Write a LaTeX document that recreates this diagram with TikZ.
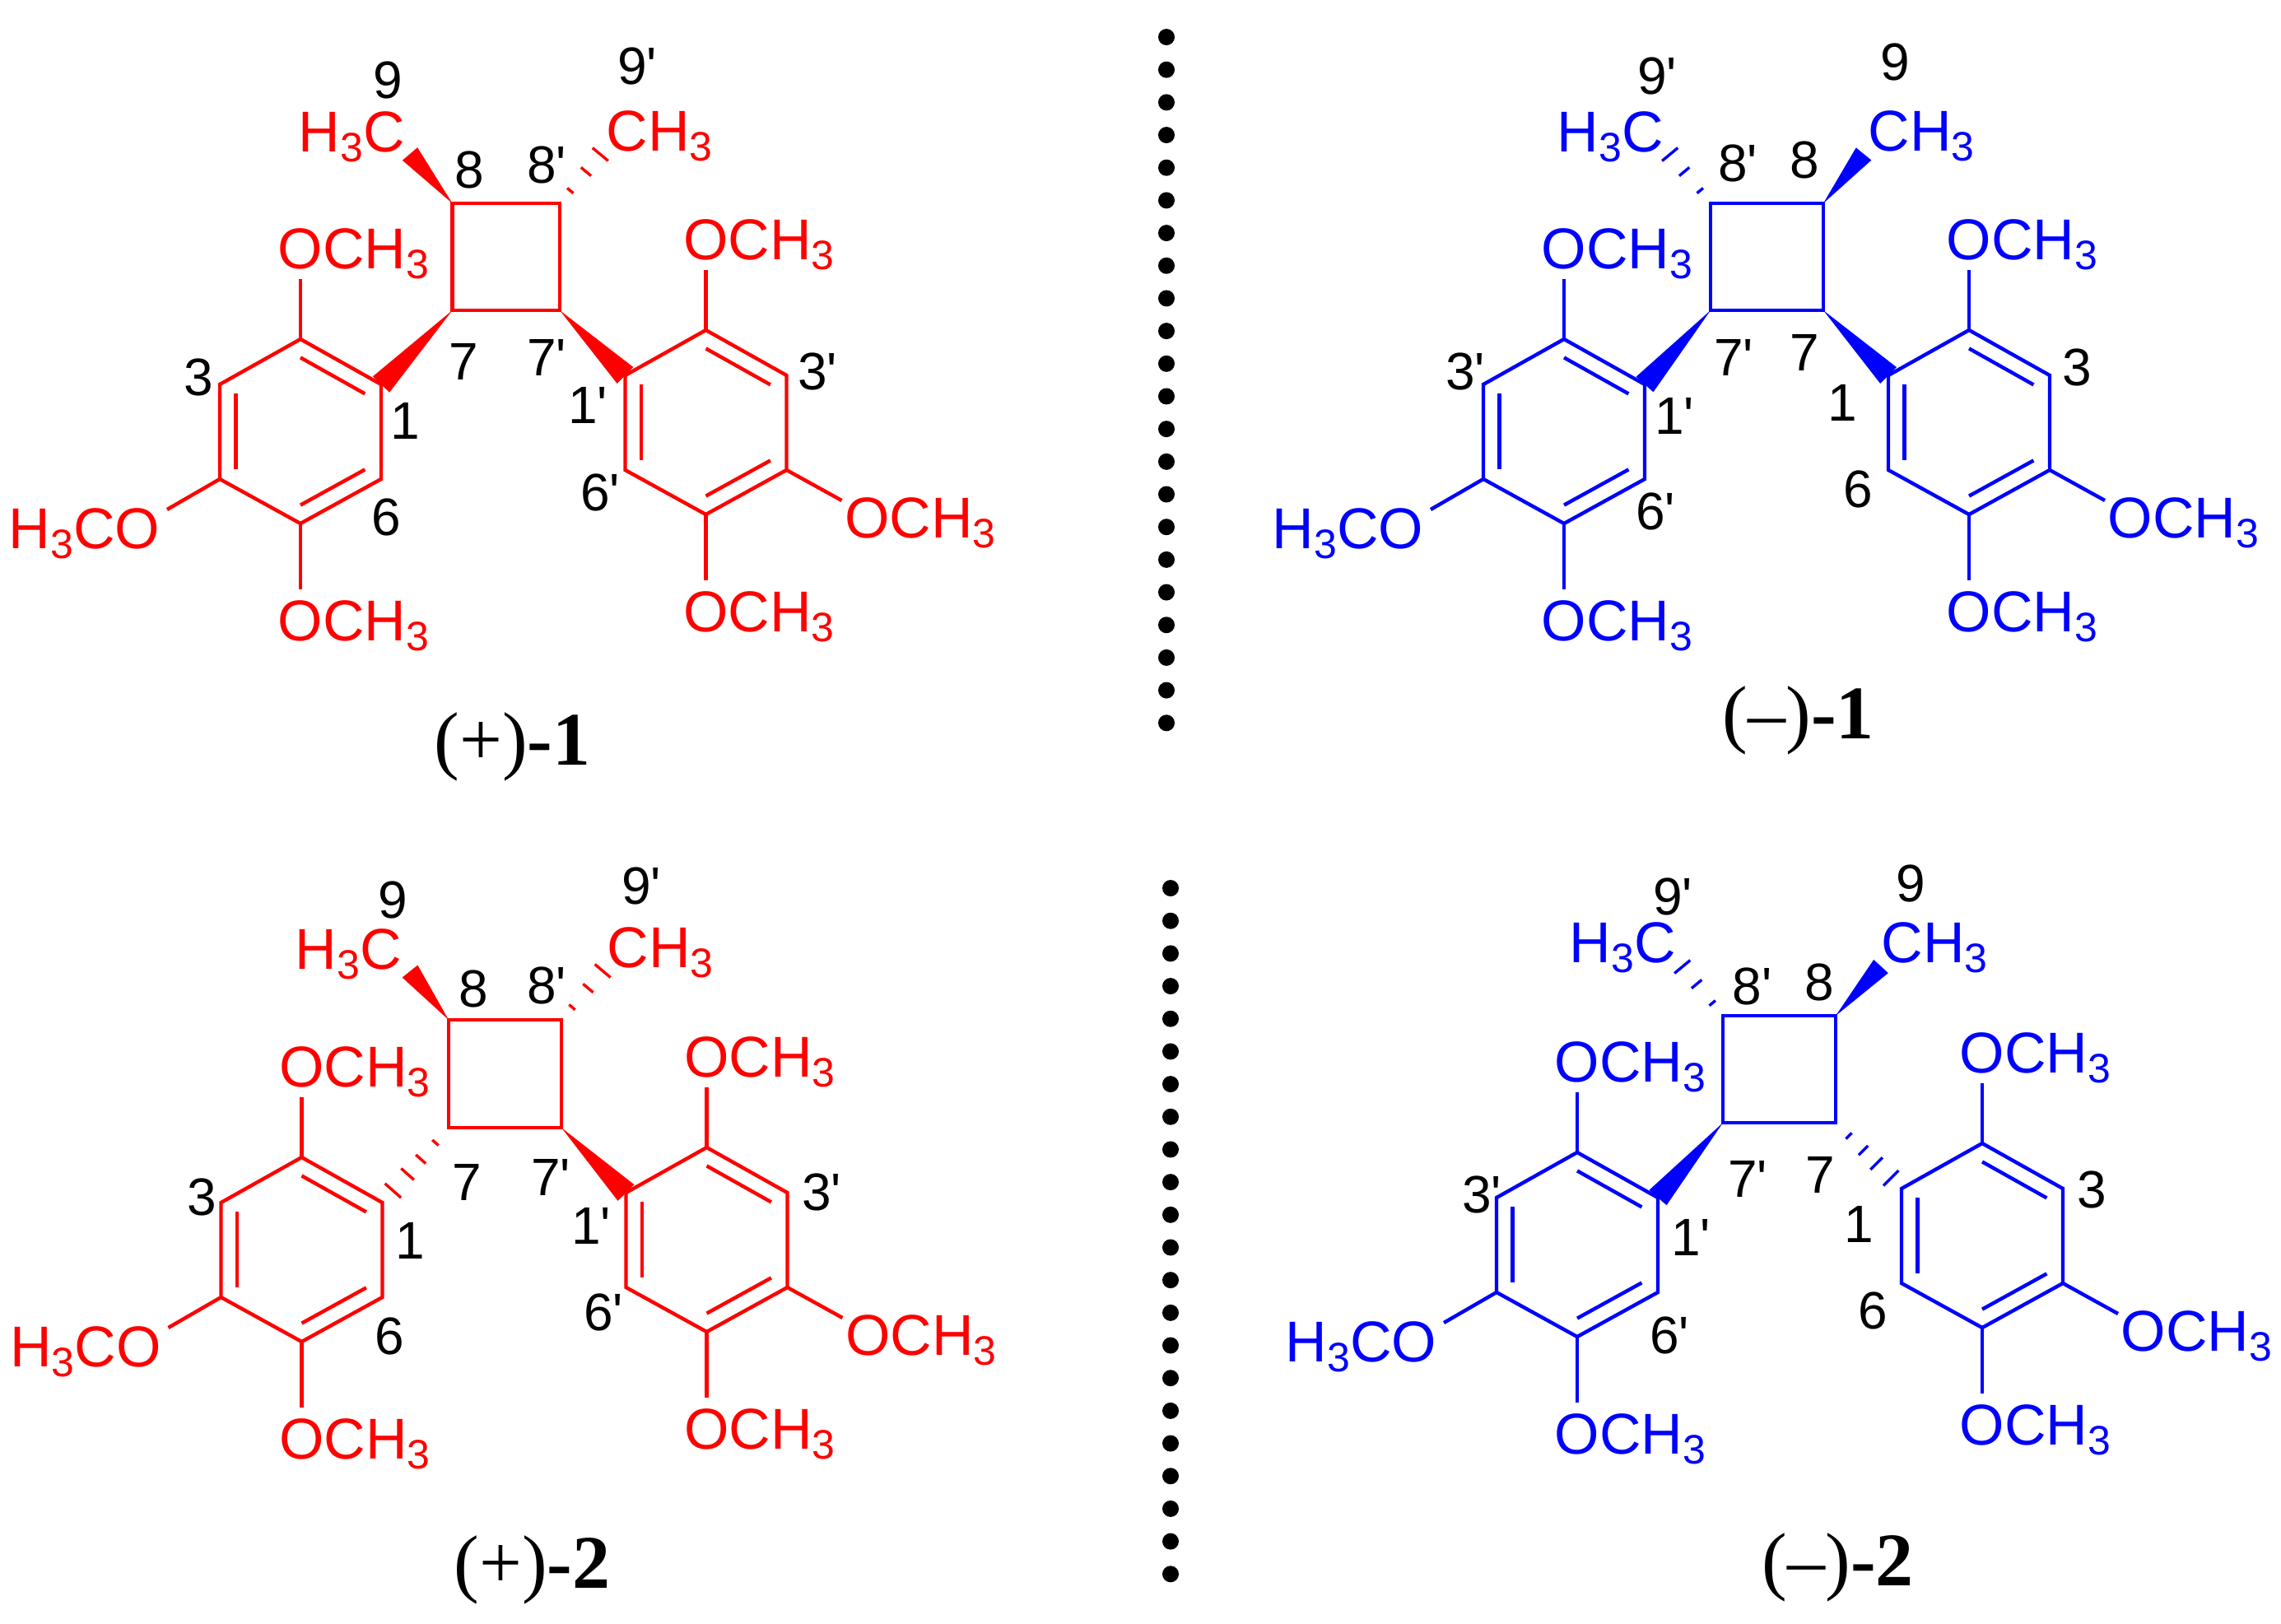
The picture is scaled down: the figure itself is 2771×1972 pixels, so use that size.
\documentclass[tikz,border=0pt]{standalone}
\usepackage{fontspec}
\newfontfamily\chemfont{Liberation Sans}
\newfontfamily\capfont{Liberation Serif}
\usetikzlibrary{calc}

\newcommand{\three}{\raisebox{-3.2pt}{\fontsize{12.5}{12.5}\selectfont 3}}
\newcommand{\ome}{OCH\three}
\newcommand{\hashthree}[2]{\foreach \t/\w in {.22/1.2pt,.55/2pt,.85/3.1pt}
  \draw[hashline] ($(#1)!\t!(#2)!\w!90:(#2)$) -- ($(#1)!\t!(#2)!\w!-90:(#2)$);}
\newcommand{\hashfour}[2]{\foreach \t/\w in {.2/1.25pt,.42/2pt,.62/2.6pt,.84/3.25pt}
  \draw[hashline] ($(#1)!\t!(#2)!\w!90:(#2)$) -- ($(#1)!\t!(#2)!\w!-90:(#2)$);}
\newcommand{\arylring}{
  \coordinate (1) at (0,0);
  \coordinate (2) at (98,55);
  \coordinate (3) at (98,170);
  \coordinate (4) at (0,224);
  \coordinate (5) at (-98,170);
  \coordinate (6) at (-98,55);
  \coordinate (c) at (0,112);
  \coordinate (t) at (0,-73);
  \coordinate (b) at (0,304);
  \node[txt] (ot) at (-28,-86) {\ome};
  \node[txt] (ob) at (-28,366) {\ome};
  \draw[bond] (1) -- (2) -- (3) -- (4) -- (5) -- (6) -- cycle;
  \draw[bond] (1) -- (t);
  \draw[bond] (4) -- (b);
  \draw[bond] ($(c)!.8!(1)$) -- ($(c)!.8!(2)$);
  \draw[bond] ($(c)!.8!(3)$) -- ($(c)!.8!(4)$);
  \draw[bond] ($(c)!.8!(5)$) -- ($(c)!.8!(6)$);
}
\tikzset{
  bond/.style={line width=1.1pt},
  hashline/.style={line width=.85pt},
  wedgebond/.style={to path={-- ($(\tikztotarget)!#1!90:(\tikztostart)$) -- ($(\tikztotarget)!#1!-90:(\tikztostart)$) -- cycle}},
  txt/.style={anchor=base west,inner sep=0pt,font=\chemfont\fontsize{17.5}{20}\selectfont},
  num/.style={inner sep=0pt,text=black,font=\chemfont\fontsize{16}{18}\selectfont},
  captxt/.style={anchor=base west,inner sep=0pt,text=black,font=\capfont\fontsize{23}{26}\selectfont},
  dots/.style={line width=5pt,line cap=round,dash pattern=on 0pt off 9.92pt},
  leftaryl/.pic={\arylring
    \coordinate (e) at (-162,207);
    \node[txt] (os) at (-355,254) {H\three CO};
    \draw[bond] (5) -- (e);},
  rightaryl/.pic={\arylring
    \coordinate (e) at (165,207);
    \node[txt] (os) at (168,252) {\ome};
    \draw[bond] (3) -- (e);},
}

\begin{document}
\begin{tikzpicture}[x=.25pt,y=-.25pt]
\useasboundingbox (0,0) rectangle (2771,1972);

\coordinate (dA) at (1417,45);
\coordinate (dB) at (1417,880);
\coordinate (dC) at (1422,1079);
\coordinate (dD) at (1422,1914);
\draw[dots] (dA) -- (dB);
\draw[dots] (dC) -- (dD);

% (+)-1
\begin{scope}[color=red]
\pic (lA) at (365,412) {leftaryl};
\pic (rA) at (857.5,401) {rightaryl};
\coordinate (a8) at (549.5,247);
\coordinate (a8p) at (680,247);
\coordinate (a7p) at (680,377);
\coordinate (a7) at (549.5,377);
\coordinate (aw) at (498,187);
\coordinate (ah) at (738,177);
\draw[bond] (a8) -- (a8p) -- (a7p) -- (a7) -- cycle;
\fill[wedgebond=3pt] (a8) to (aw);
\hashthree{a8p}{ah}
\fill[wedgebond=3.5pt] (a7) to (lA2);
\fill[wedgebond=3.5pt] (a7p) to (rA6);
\node[txt] (aml) at (362,184) {H\three C};
\node[txt] (amr) at (736,183) {CH\three};
\node[num] (an9) at (471,97) {9};
\node[num] (an9p) at (774,80) {9'};
\node[num] (an8) at (570,206) {8};
\node[num] (an8p) at (664,200) {8'};
\node[num] (an7) at (563,439) {7};
\node[num] (an7p) at (664,434) {7'};
\node[num] (an3) at (241,458) {3};
\node[num] (an1) at (492,511) {1};
\node[num] (an6) at (469,628) {6};
\node[num] (an1p) at (714,492) {1'};
\node[num] (an3p) at (993,451) {3'};
\node[num] (an6p) at (729,598) {6'};
\node[captxt] (acap) at (527,929) {(+){\bfseries -1}};
\end{scope}

% (-)-1
\begin{scope}[color=blue]
\pic (lB) at (1900,412) {leftaryl};
\pic (rB) at (2392,401) {rightaryl};
\coordinate (b8p) at (2078,247);
\coordinate (b8) at (2215,247);
\coordinate (b7) at (2215,377);
\coordinate (b7p) at (2078,377);
\coordinate (bw) at (2264,187);
\coordinate (bh) at (2020,177);
\draw[bond] (b8p) -- (b8) -- (b7) -- (b7p) -- cycle;
\fill[wedgebond=3pt] (b8) to (bw);
\hashthree{b8p}{bh}
\fill[wedgebond=3.5pt] (b7p) to (lB2);
\fill[wedgebond=3.5pt] (b7) to (rB6);
\node[txt] (bml) at (1891,184) {H\three C};
\node[txt] (bmr) at (2269,183) {CH\three};
\node[num] (bn9p) at (2013,92) {9'};
\node[num] (bn9) at (2302,75) {9};
\node[num] (bn8p) at (2111,198) {8'};
\node[num] (bn8) at (2192,194) {8};
\node[num] (bn7p) at (2106,434) {7'};
\node[num] (bn7) at (2192,428) {7};
\node[num] (bn3p) at (1780,451) {3'};
\node[num] (bn1p) at (2034,505) {1'};
\node[num] (bn6p) at (2011,621) {6'};
\node[num] (bn1) at (2238,489) {1};
\node[num] (bn3) at (2523,446) {3};
\node[num] (bn6) at (2257,594) {6};
\node[captxt] (bcap) at (2092,897) {(–){\bfseries -1}};
\end{scope}

% (+)-2
\begin{scope}[color=red]
\pic (lC) at (366.5,1406) {leftaryl};
\pic (rC) at (858.5,1394) {rightaryl};
\coordinate (c8) at (545,1239);
\coordinate (c8p) at (682,1239);
\coordinate (c7p) at (682,1370);
\coordinate (c7) at (545,1370);
\coordinate (cw) at (498,1180);
\coordinate (ch) at (741,1169);
\draw[bond] (c8) -- (c8p) -- (c7p) -- (c7) -- cycle;
\fill[wedgebond=3pt] (c8) to (cw);
\hashthree{c8p}{ch}
\hashfour{c7}{lC2}
\fill[wedgebond=3.5pt] (c7p) to (rC6);
\node[txt] (cml) at (358,1177) {H\three C};
\node[txt] (cmr) at (737,1175) {CH\three};
\node[num] (cn9) at (477,1093) {9};
\node[num] (cn9p) at (779,1076) {9'};
\node[num] (cn8) at (575,1201) {8};
\node[num] (cn8p) at (664,1197) {8'};
\node[num] (cn7) at (567,1436) {7};
\node[num] (cn7p) at (669,1430) {7'};
\node[num] (cn3) at (245,1454) {3};
\node[num] (cn1) at (498,1507) {1};
\node[num] (cn6) at (473,1623) {6};
\node[num] (cn1p) at (718,1489) {1'};
\node[num] (cn3p) at (998,1448) {3'};
\node[num] (cn6p) at (733,1594) {6'};
\node[captxt] (ccap) at (551,1929) {(+){\bfseries -2}};
\end{scope}

% (-)-2
\begin{scope}[color=blue]
\pic (lD) at (1916,1400) {leftaryl};
\pic (rD) at (2408,1389) {rightaryl};
\coordinate (d8p) at (2093,1234);
\coordinate (d8) at (2230,1234);
\coordinate (d7) at (2230,1364);
\coordinate (d7p) at (2093,1364);
\coordinate (dw) at (2285,1174);
\coordinate (dh) at (2035,1164);
\draw[bond] (d8p) -- (d8) -- (d7) -- (d7p) -- cycle;
\fill[wedgebond=3pt] (d8) to (dw);
\hashthree{d8p}{dh}
\fill[wedgebond=3.5pt] (d7p) to (lD2);
\hashfour{d7}{rD6}
\node[txt] (dml) at (1906,1169) {H\three C};
\node[txt] (dmr) at (2285,1169) {CH\three};
\node[num] (dn9p) at (2032,1089) {9'};
\node[num] (dn9) at (2321,1073) {9};
\node[num] (dn8p) at (2128.5,1198) {8'};
\node[num] (dn8) at (2210,1193) {8};
\node[num] (dn7p) at (2123,1432) {7'};
\node[num] (dn7) at (2211,1427) {7};
\node[num] (dn3p) at (1800,1451) {3'};
\node[num] (dn1p) at (2054,1503) {1'};
\node[num] (dn6p) at (2028,1622) {6'};
\node[num] (dn1) at (2258,1487) {1};
\node[num] (dn3) at (2541,1445) {3};
\node[num] (dn6) at (2275,1592) {6};
\node[captxt] (dcap) at (2140,1926) {(–){\bfseries -2}};
\end{scope}
\end{tikzpicture}
\end{document}
